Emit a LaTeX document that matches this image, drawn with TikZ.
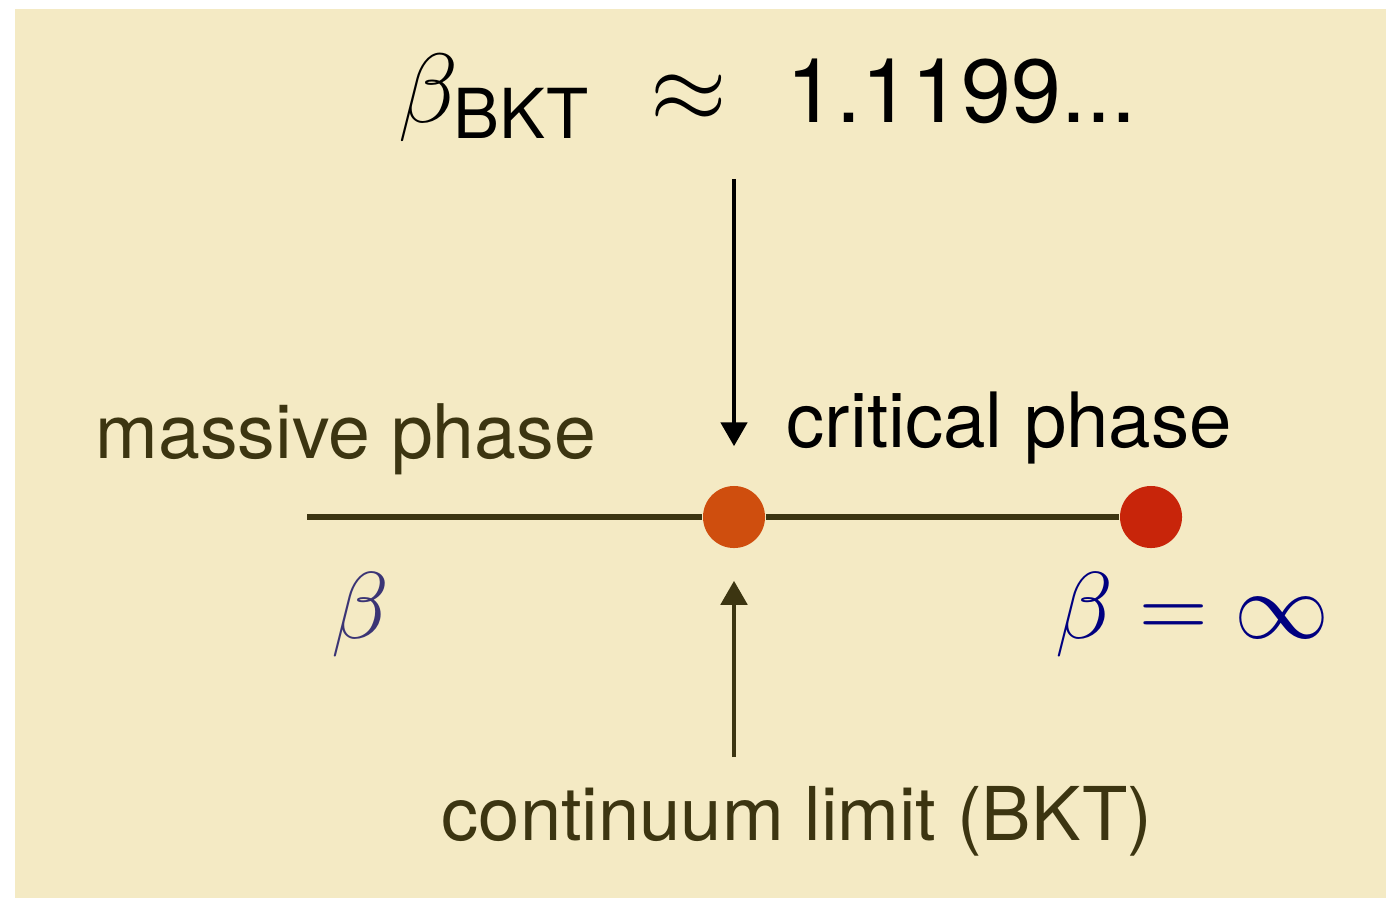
\RequirePackage{fix-cm}
\documentclass[tikz,border=0pt]{standalone}
\usepackage{amsmath}
\usepackage{fontspec}
\setmainfont{TeX Gyre Heros}
\usetikzlibrary{arrows.meta, positioning}
\definecolor{pcream}{HTML}{F4EAC4}
\definecolor{polive}{HTML}{3C3511}
\definecolor{porange}{HTML}{CF4E0E}
\definecolor{pred}{HTML}{C8250A}
\definecolor{pindigo}{HTML}{3B3575}
\definecolor{pnavy}{HTML}{000080}
\tikzset{
  phase/.style={font=\fontsize{21.4}{25}\selectfont, inner sep=0pt, anchor=base west},
  coup/.style={font=\fontsize{27}{32}\selectfont, inner sep=0pt, anchor=base west},
  dot/.style={circle, minimum size=0.62cm, inner sep=0pt},
  flow/.style={-{Triangle[length=0.24cm, width=0.26cm]}, line width=1.4pt},
}

\begin{document}
\begin{tikzpicture}[x=0.01cm, y=-0.01cm]
  \useasboundingbox (0,0) rectangle (1386,900);
  \fill[pcream] (15,9) rectangle (1386,898);

  \node[coup, font=\fontsize{28}{33}\selectfont] (bkt) at (398,122)
    {$\beta_{\text{BKT}}$\hspace{0.6cm}$\approx$\hspace{0.6cm}{\fontsize{25.5}{30}\selectfont 1.1199...}};

  \node[dot, fill=porange] (crit) at (734,517) {};
  \node[dot, fill=pred] (inf) at (1151,517) {};
  \coordinate (lft) at (307,517);

  \node[phase, text=polive] (massive) at (95,458) {massive phase};
  \node[phase, font=\fontsize{21.7}{25}\selectfont] (critical) at (786,447) {critical phase};
  \node[coup, text=pindigo] (beta) at (331,638) {$\beta$};
  \node[coup, text=pnavy] (betainf) at (1055,638) {$\beta = \infty$};
  \node[phase, font=\fontsize{21.1}{25}\selectfont, text=polive] (limit) at (441,840) {continuum limit (BKT)};

  \draw[polive, line width=1.8pt] (lft) -- (crit) -- (inf);
  \draw[flow, shorten <=0.37cm, shorten >=0.39cm] (crit |- bkt.south) -- (crit);
  \draw[flow, polive, shorten <=0.28cm, shorten >=0.32cm] (crit |- limit.north) -- (crit);
\end{tikzpicture}
\end{document}
